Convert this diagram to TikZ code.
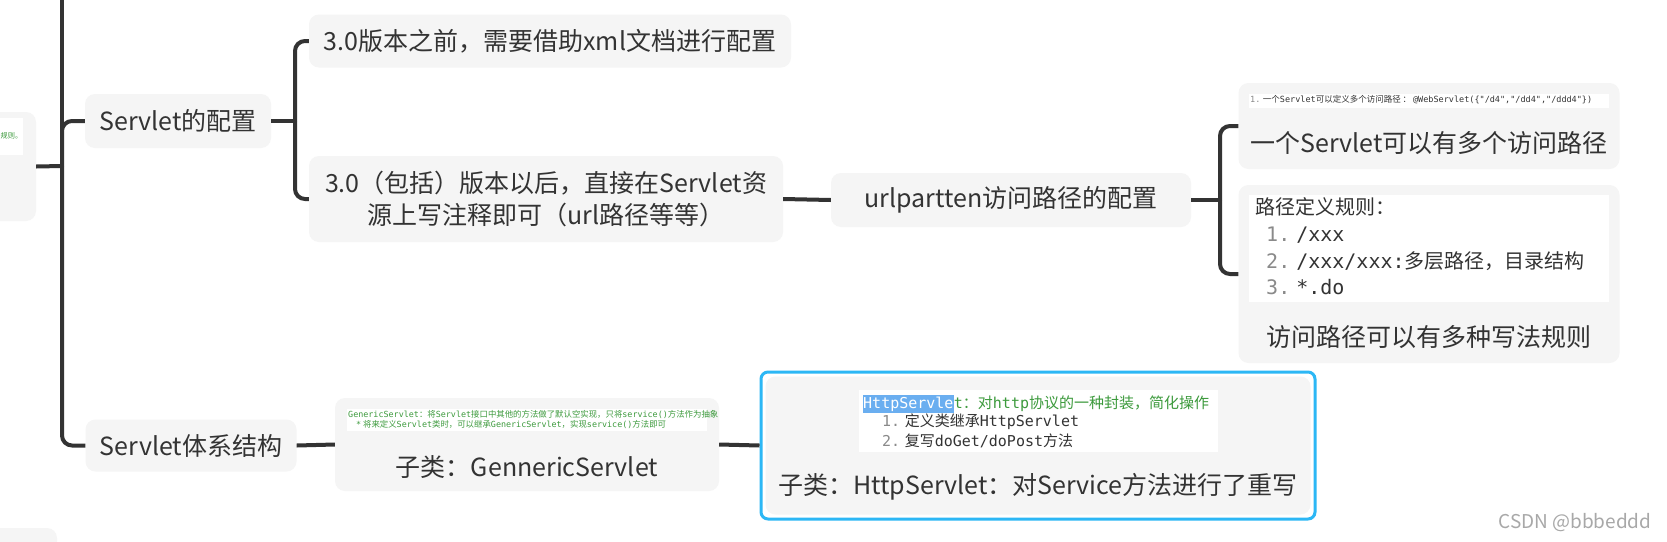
\documentclass[tikz,border=0pt]{standalone}
\usepackage{fontspec}
\setmainfont{Noto Sans CJK SC}
\newfontfamily\codefont{DejaVu Sans Mono}
\definecolor{linegray}{HTML}{333333}
\definecolor{boxgray}{HTML}{F5F5F5}
\definecolor{textgray}{HTML}{333333}
\definecolor{codegreen}{HTML}{3C9A3C}
\definecolor{numgray}{HTML}{8A8A8A}
\definecolor{selblue}{HTML}{6AAEF0}
\definecolor{frameblue}{HTML}{2CB7F5}
\definecolor{markgray}{HTML}{A8A8A8}
\tikzset{
  topic/.style={fill=boxgray, rounded corners=10pt, inner sep=0pt, text=textgray,
    font=\fontsize{25}{30}\selectfont},
  caption/.style={inner sep=0pt, text=textgray, font=\fontsize{25}{30}\selectfont},
  link/.style={draw=linegray, line width=4pt, rounded corners=10pt},
  shot/.style={fill=white, inner sep=0pt},
  note/.style={inner sep=0pt, anchor=west, text=codegreen, font=\fontsize{8.4}{9}\selectfont},
  rule/.style={inner sep=0pt, anchor=west, text=textgray, font=\fontsize{20}{24}\selectfont},
  httpline/.style={inner sep=0pt, anchor=west, text=textgray, font=\fontsize{15}{18}\selectfont}
}
\begin{document}
\begin{tikzpicture}[x=1pt,y=-1pt]
\useasboundingbox (0,0) rectangle (1667,541);
\clip (0,0) rectangle (1667,541);
\fill[white] (0,0) rectangle (1667,541);
\path
(62,166) coordinate (f1)
(62,-10) coordinate (up)
(295,121) coordinate (f2)
(1220,200) coordinate (f3)
;
% left column
\node[topic, minimum width=66pt, minimum height=109pt] (root) at (3,166.5) {};
\node[shot, minimum width=28pt, minimum height=37pt] (rootimg) at (9,136.5) {};
\node[note, anchor=east, font=\fontsize{7.2}{8}\selectfont] (roottxt) at (22.5,136) {规则。};
\node[topic, minimum width=87pt, minimum height=40pt] (next) at (13.5,548) {};
\node[topic, minimum width=186pt, minimum height=54pt] (cfg) at (178,121) {Servlet的配置};
\node[topic, minimum width=211pt, minimum height=52pt] (arch) at (191,445.5) {Servlet体系结构};
% configuration
\node[topic, minimum width=482pt, minimum height=53pt] (before) at (550,41) {3.0版本之前，需要借助xml文档进行配置};
\node[topic, minimum width=474pt, minimum height=86pt, align=center,
  font=\fontsize{25}{32}\selectfont] (after) at (546,199)
  {3.0（包括）版本以后，直接在Servlet资\\源上写注释即可（url路径等等）};
\node[topic, minimum width=360pt, minimum height=54pt] (url) at (1011,200) {urlpartten访问路径的配置};
\node[topic, minimum width=381pt, minimum height=86pt] (multi) at (1429,126) {};
\node[shot, minimum width=360pt, minimum height=14pt] (multiimg) at (1429,101) {};
\node[note, text=textgray, font=\fontsize{8.5}{9}\selectfont] (multicode) at (1250,100)
  {{\codefont\color{numgray}1.} 一个{\codefont Servlet}可以定义多个访问路径 ： {\codefont @WebServlet(\{"/d4","/dd4","/ddd4"\})}};
\node[caption] (multitxt) at (1429,143) {一个Servlet可以有多个访问路径};
\node[topic, minimum width=381pt, minimum height=178pt] (rules) at (1429,274) {};
\node[shot, minimum width=360pt, minimum height=107pt] (rulesimg) at (1429,248.5) {};
\node[rule] (rule0) at (1255,207) {路径定义规则：};
\node[rule] (rule1) at (1266,235) {{\codefont\color{numgray}1.} {\codefont /xxx}};
\node[rule] (rule2) at (1266,261) {{\codefont\color{numgray}2.} {\codefont /xxx/xxx:}多层路径，目录结构};
\node[rule] (rule3) at (1266,287) {{\codefont\color{numgray}3.} {\codefont *.do}};
\node[caption] (rulestxt) at (1429,337) {访问路径可以有多种写法规则};
% hierarchy
\node[topic, minimum width=384pt, minimum height=93pt] (gen) at (527,444.5) {};
\node[shot, minimum width=360pt, minimum height=22pt] (genimg) at (527,420) {};
\node[note] (gen1) at (348,414)
  {{\codefont GenericServlet}：将{\codefont Servlet}接口中其他的方法做了默认空实现，只将{\codefont service()}方法作为抽象};
\node[note] (gen2) at (356,424)
  {{\codefont *} 将来定义{\codefont Servlet}类时，可以继承{\codefont GenericServlet}，实现{\codefont service()}方法即可};
\node[caption] (gentxt) at (527,467) {子类：GennericServlet};
\node[draw=frameblue, line width=3pt, rounded corners=7pt, fill=white, inner sep=0pt,
  minimum width=554pt, minimum height=147pt] (http) at (1038,445.5) {};
\node[topic, minimum width=545pt, minimum height=138pt] (httpbox) at (1038,445.5) {};
\node[shot, minimum width=359pt, minimum height=62pt] (httpimg) at (1038.5,421) {};
\node[httpline, fill=selblue, text=white, inner ysep=2pt, font=\fontsize{15}{18}\codefont] (httpsel) at (863,404) {HttpServle};
\node[httpline, text=codegreen, anchor=west] (http1) at (httpsel.east) {{\codefont t}：对{\codefont http}协议的一种封装，简化操作};
\node[httpline] (http2) at (882,422) {{\codefont\color{numgray}1.} 定义类继承{\codefont HttpServlet}};
\node[httpline] (http3) at (882,441) {{\codefont\color{numgray}2.} 复写{\codefont doGet/doPost}方法};
\node[caption] (httptxt) at (1038,487) {子类：HttpServlet：对Service方法进行了重写};
\node[inner sep=0pt, text=markgray, font=\fontsize{19}{22}\selectfont] (mark) at (1575,523) {CSDN @bbbeddd};
% connectors
\draw[link] (root.east) -- (f1);
\draw[link] (f1) -- (up);
\draw[link] (f1) |- (cfg.west);
\draw[link] (f1) |- (arch.west);
\draw[link] (cfg.east) -- (f2);
\draw[link] (f2) |- (before.west);
\draw[link] (f2) |- (after.west);
\draw[link] (after.east) -- (url.west);
\draw[link] (url.east) -- (f3);
\draw[link] (f3) |- (multi.west);
\draw[link] (f3) |- (rules.west);
\draw[link] (arch.east) -- (gen.west);
\draw[link] (gen.east) -- (http.west);
\end{tikzpicture}
\end{document}
